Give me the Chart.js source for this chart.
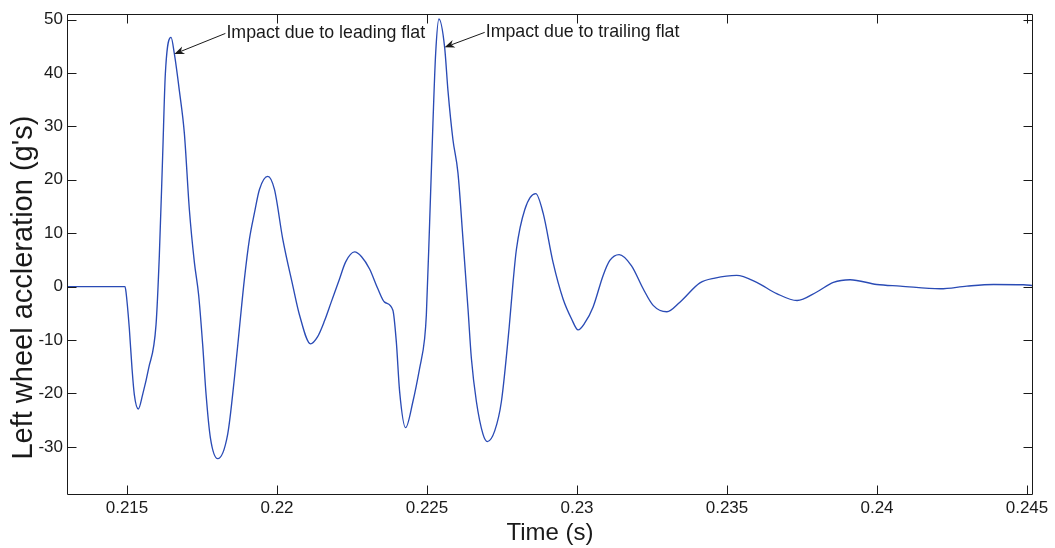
<!DOCTYPE html>
<html><head><meta charset="utf-8">
<script src="https://cdn.jsdelivr.net/npm/chart.js@4.4.1/dist/chart.umd.min.js"></script>
<style>html,body{margin:0;padding:0;background:#fff;} canvas{display:block;}</style>
</head><body>
<canvas id="c" width="1055" height="548"></canvas>
<script>
const timeS = [
0.213000,0.214933,0.214967,0.215077,0.215167,0.215244,0.215377,0.215521,0.215721,0.215968,
0.216078,0.216188,0.216278,0.216468,0.216578,0.216745,0.216912,0.217079,0.217246,0.217389,
0.217523,0.217636,0.217780,0.218023,0.218357,0.218581,0.218747,0.218914,0.219081,0.219248,
0.219415,0.219692,0.219915,0.220192,0.220526,0.220750,0.221117,0.221350,0.221584,0.221807,
0.222084,0.222285,0.222585,0.222819,0.223086,0.223362,0.223586,0.223863,0.223977,0.224087,
0.224287,0.224531,0.224754,0.224921,0.224978,0.225088,0.225198,0.225288,0.225398,0.225588,
0.225699,0.225865,0.226032,0.226199,0.226366,0.226479,0.226646,0.226866,0.227013,0.227257,
0.227480,0.227741,0.227868,0.227981,0.228258,0.228625,0.228869,0.229202,0.229536,0.229816,
0.230037,0.230260,0.230537,0.230871,0.231094,0.231405,0.231818,0.232206,0.232539,0.232996,
0.233430,0.234098,0.234598,0.235322,0.235990,0.236657,0.237335,0.237992,0.238546,0.239103,
0.239994,0.240772,0.242107,0.242997,0.243885,0.244886,0.245210
];
const accelG = [
0,0,-1.0,-7.8,-15.3,-20.2,-22.9,-20.2,-15.3,-7.1,
5.85,24.4,39.8,46.65,43.6,36.7,28.7,14.4,4.55,-1.6,
-10.9,-20.2,-28.3,-32.2,-27.6,-17.1,-7.8,1.45,8.9,13.8,
18.2,20.65,18.2,8.9,0.2,-5.3,-10.7,-9.4,-6.4,-2.9,
1.45,4.6,6.5,5.6,3.3,-0.4,-2.9,-4.4,-10.3,-19.6,
-26.4,-21.5,-15.3,-9.7,-5.3,12.0,30.6,43.6,50.1,44.8,
36.7,27.5,21.3,8.9,-4.1,-13.4,-21.5,-27.6,-29.0,-27.0,
-21.5,-7.5,0.8,7.0,14.4,17.4,13.8,4.55,-2.3,-6.0,
-8.1,-6.8,-3.8,2.1,4.9,6.0,3.9,-0.4,-3.5,-4.7,
-2.9,0.7,1.6,2.1,0.8,-1.3,-2.6,-1.0,0.8,1.3,
0.4,0.1,-0.4,0.1,0.4,0.35,0.2
];
const xTickValues = [0.215,0.22,0.225,0.23,0.235,0.24,0.245];
const xTickLabels = ['0.215','0.22','0.225','0.23','0.235','0.24','0.245'];
const yTickValues = [-30,-20,-10,0,10,20,30,40,50];
const yTickLabels = ['-30','-20','-10','0','10','20','30','40','50'];
const xRange = [0.213, 0.2452];
const yRange = [-39, 51];
const xTitle = 'Time (s)';
const yTitle = "Left wheel accleration (g's)";
const noteTexts = ['Impact due to leading flat','Impact due to trailing flat'];
const arrowTipX = [0.216578, 0.225588];
const arrowTipY = [43.55, 44.8];
const arrowTailX = [0.21828, 0.226923];
const arrowTailY = [47.4, 47.6];

const FONT = "'Liberation Sans', Arial, Helvetica, sans-serif";
const INK = '#1a1a1a';

const whiteBg = {
  id:'whiteBg',
  beforeDraw(chart){
    const ctx = chart.ctx; ctx.save(); ctx.fillStyle='#fff';
    ctx.fillRect(0,0,chart.width,chart.height); ctx.restore();
  }
};

const frameTicks = {
  id:'frameTicks',
  afterDraw(chart){
    const {ctx, chartArea:a, scales:{x,y}} = chart;
    const L=9;
    ctx.save();
    ctx.strokeStyle=INK; ctx.lineWidth=1;
    const l=Math.round(a.left)+0.5, r=Math.round(a.right)-0.5, t=Math.round(a.top)+0.5, b=Math.round(a.bottom)-0.5;
    ctx.beginPath();
    ctx.rect(l,t,r-l,b-t);
    xTickValues.forEach(v=>{
      const px=Math.round(x.getPixelForValue(v))+0.5;
      ctx.moveTo(px,b); ctx.lineTo(px,b-L);
      ctx.moveTo(px,t); ctx.lineTo(px,t+L);
    });
    yTickValues.forEach(v=>{
      const py=Math.round(y.getPixelForValue(v))+0.5;
      ctx.moveTo(l,py); ctx.lineTo(l+L,py);
      ctx.moveTo(r,py); ctx.lineTo(r-L,py);
    });
    ctx.stroke();
    // y-axis title (offset below the axis centre, as in the reference)
    ctx.fillStyle=INK;
    ctx.font = "29px " + FONT;
    ctx.textAlign='center'; ctx.textBaseline='middle';
    ctx.translate(24, (a.top+a.bottom)/2 + 33);
    ctx.rotate(-Math.PI/2);
    ctx.fillText(yTitle, 0, 0);
    ctx.restore();
  }
};

const notes = {
  id:'notes',
  afterDatasetsDraw(chart){
    const {ctx, scales:{x,y}} = chart;
    ctx.save();
    ctx.strokeStyle=INK; ctx.fillStyle=INK; ctx.lineWidth=1;
    ctx.font = "17.8px " + FONT;
    ctx.textBaseline='middle'; ctx.textAlign='left';
    noteTexts.forEach((txt,i)=>{
      const x0=x.getPixelForValue(arrowTailX[i]), y0=y.getPixelForValue(arrowTailY[i]);
      const x1=x.getPixelForValue(arrowTipX[i]), y1=y.getPixelForValue(arrowTipY[i]);
      const ang=Math.atan2(y1-y0,x1-x0);
      const hl=10, hw=4;
      const bx=x1-hl*Math.cos(ang), by=y1-hl*Math.sin(ang);
      ctx.beginPath(); ctx.moveTo(x0,y0); ctx.lineTo(bx+3*Math.cos(ang),by+3*Math.sin(ang)); ctx.stroke();
      const nx=-Math.sin(ang), ny=Math.cos(ang);
      ctx.beginPath();
      ctx.moveTo(x1,y1);
      ctx.lineTo(bx+nx*hw, by+ny*hw);
      ctx.lineTo(bx+3*Math.cos(ang), by+3*Math.sin(ang));
      ctx.lineTo(bx-nx*hw, by-ny*hw);
      ctx.closePath(); ctx.fill();
      ctx.fillText(txt, x0+1, y0-0.5);
    });
    ctx.restore();
  }
};

Chart.defaults.font.family = FONT;
Chart.defaults.color = INK;

new Chart(document.getElementById('c'), {
  type:'line',
  data:{ datasets:[{
    data: timeS.map((t,i)=>({x:t, y:accelG[i]})),
    borderColor:'#2a4bb5', borderWidth:1.35, pointRadius:0,
    cubicInterpolationMode:'monotone', fill:false
  }]},
  options:{
    responsive:false, animation:false, devicePixelRatio:1,
    layout:{padding:{top:9,right:22,left:0,bottom:0}},
    plugins:{legend:{display:false}, tooltip:{enabled:false}},
    scales:{
      x:{
        type:'linear', min:xRange[0], max:xRange[1],
        grid:{display:false, drawTicks:false}, border:{display:false},
        afterBuildTicks:s=>{ s.ticks = xTickValues.map(v=>({value:v})); },
        afterFit:s=>{ s.height = 53; },
        ticks:{ padding:3, font:{size:17}, maxRotation:0, autoSkip:false,
          callback:(v)=>{ const k=xTickValues.findIndex(t=>Math.abs(t-v)<1e-9); return k>=0?xTickLabels[k]:''; } },
        title:{display:true, text:xTitle, font:{size:24}, padding:{top:10,bottom:0}, color:INK}
      },
      y:{
        type:'linear', min:yRange[0], max:yRange[1],
        grid:{display:false, drawTicks:false}, border:{display:false},
        afterBuildTicks:s=>{ s.ticks = yTickValues.map(v=>({value:v})); },
        afterFit:s=>{ s.width = 67; },
        ticks:{ padding:4, font:{size:17}, autoSkip:false,
          callback:(v)=>{ const k=yTickValues.findIndex(t=>Math.abs(t-v)<1e-9); return k>=0?yTickLabels[k]:''; } },
        title:{display:false}
      }
    }
  },
  plugins:[whiteBg, frameTicks, notes]
});
</script>
</body></html>
